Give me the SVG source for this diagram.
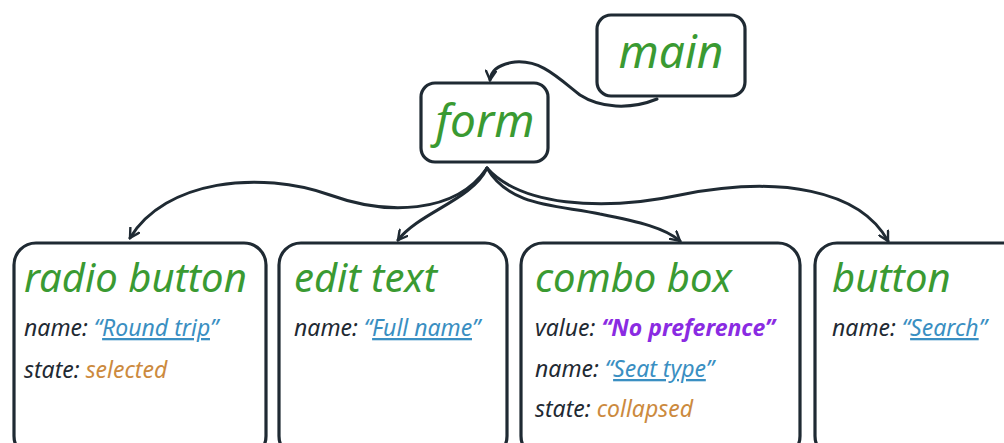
<svg xmlns="http://www.w3.org/2000/svg" width="1004" height="443" viewBox="0 0 1004 443">
<style>
.box{fill:#fff;stroke:#1f2a33;stroke-width:3.2}
.title{font-family:"Noto Sans",sans-serif;font-style:italic;fill:#3a9a32}
.big{font-size:40px}
.huge{font-size:46px}
.lbl{font-family:"Noto Sans",sans-serif;font-style:italic;font-size:23px;fill:#1f2a33}
.name{fill:#3a8fc2;text-decoration:underline}
.q{fill:#3a8fc2}
.st{fill:#cc8a3e}
.val{fill:#8a2be2;font-weight:bold}
.edge{fill:none;stroke:#1f2a33;stroke-width:3;stroke-linecap:round}
</style>
<defs>
<marker id="arr" viewBox="0 0 12 12" refX="10" refY="6" markerWidth="12" markerHeight="12" markerUnits="userSpaceOnUse" orient="auto">
<path d="M1,1 L10,6 L1,11" fill="none" stroke="#1f2a33" stroke-width="2.4" stroke-linecap="round"/>
</marker>
</defs>
<rect width="1004" height="443" fill="#fff"/>
<g id="connectors">
<path class="edge" marker-end="url(#arr)" d="M657,99 C630,110 600,108 580,95 C555,75 540,60 515,62 C500,64 491,70 490,80"/>
<path class="edge" marker-end="url(#arr)" d="M487,168 C455,215 385,215 330,195 C260,170 165,180 130,238"/>
<path class="edge" marker-end="url(#arr)" d="M487,168 C472,200 420,212 398,240"/>
<path class="edge" marker-end="url(#arr)" d="M487,168 C510,208 560,205 600,214 C640,222 665,228 680,241"/>
<path class="edge" marker-end="url(#arr)" d="M487,168 C520,205 600,212 680,195 C780,175 860,190 888,241"/>
</g>
<g id="main">
<rect class="box" x="597" y="15" width="148" height="81" rx="14"/>
<text class="title huge" x="671" y="68" text-anchor="middle">main</text>
</g>
<g id="form">
<rect class="box" x="421" y="83" width="127" height="79" rx="14"/>
<text class="title huge" x="485" y="137" text-anchor="middle">form</text>
</g>
<g id="radio">
<rect class="box" x="14" y="243" width="252" height="215" rx="22"/>
<text class="title big" x="24" y="292">radio button</text>
<text class="lbl" x="24" y="336">name: <tspan class="q">“</tspan><tspan class="name">Round trip</tspan><tspan class="q">”</tspan></text>
<text class="lbl" x="24" y="378">state: <tspan class="st">selected</tspan></text>
</g>
<g id="edit">
<rect class="box" x="279" y="243" width="228" height="215" rx="22"/>
<text class="title big" x="294" y="292">edit text</text>
<text class="lbl" x="294" y="336">name: <tspan class="q">“</tspan><tspan class="name">Full name</tspan><tspan class="q">”</tspan></text>
</g>
<g id="combo">
<rect class="box" x="521" y="243" width="279" height="215" rx="22"/>
<text class="title big" x="535" y="292">combo box</text>
<text class="lbl" x="535" y="336">value: <tspan class="val">“No preference”</tspan></text>
<text class="lbl" x="535" y="377">name: <tspan class="q">“</tspan><tspan class="name">Seat type</tspan><tspan class="q">”</tspan></text>
<text class="lbl" x="535" y="417">state: <tspan class="st">collapsed</tspan></text>
</g>
<g id="button">
<rect class="box" x="815" y="243" width="220" height="215" rx="22"/>
<text class="title big" x="832" y="292">button</text>
<text class="lbl" x="832" y="336">name: <tspan class="q">“</tspan><tspan class="name">Search</tspan><tspan class="q">”</tspan></text>
</g>
</svg>
